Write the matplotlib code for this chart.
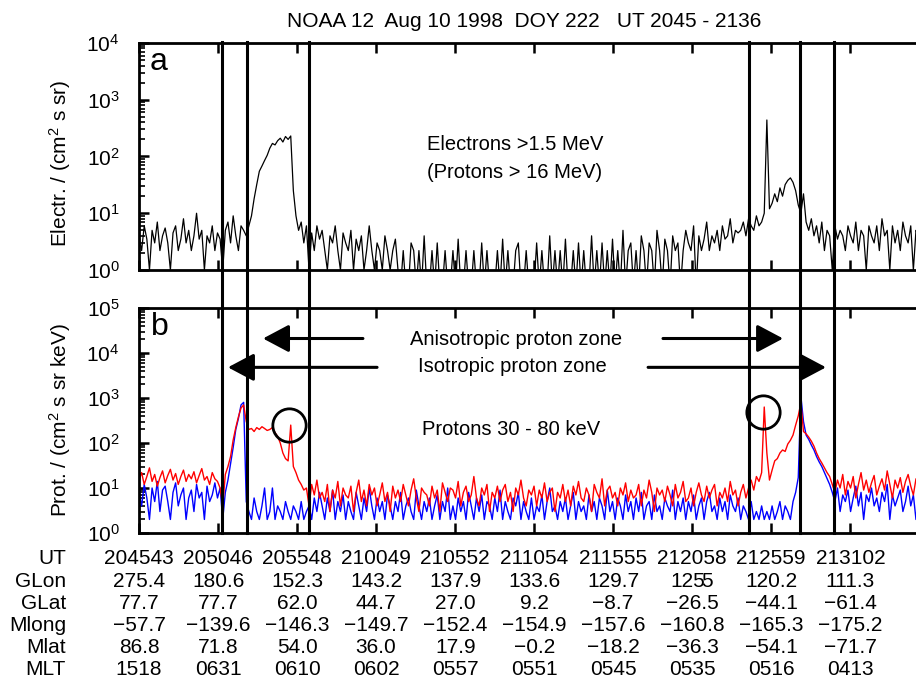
import numpy as np
import matplotlib.pyplot as plt
from matplotlib.ticker import LogLocator, NullLocator, NullFormatter
from matplotlib.transforms import blended_transform_factory, offset_copy

plt.rcParams['font.family'] = ['Liberation Sans', 'DejaVu Sans']
plt.rcParams['mathtext.fontset'] = 'custom'
plt.rcParams['mathtext.rm'] = 'Liberation Sans'
plt.rcParams['mathtext.it'] = 'Liberation Sans:italic'
plt.rcParams['mathtext.bf'] = 'Liberation Sans:bold'

# samples every 10 s, seconds after 20:45:43 UT
t_step = 10

electrons = [
    4, 2.2, 6, 3.5, 1, 5, 3, 7, 2.2, 4,
    5.5, 3, 1, 4.5, 6, 2.2, 3.5, 8, 3, 5,
    2.2, 4, 10, 3.5, 5, 1, 4, 3, 6, 2.2,
    4.5, 3.5, 1, 5, 7, 3, 9, 4, 2.2, 6,
    5, 4, 6, 9, 18, 32, 55, 68, 85, 105,
    140, 170, 160, 190, 210, 180, 225, 200, 230, 25,
    9, 5, 7, 3, 6, 1, 4.5, 2.2, 6, 3.5,
    5, 2.2, 1, 4, 3, 6, 2.2, 1, 4.5, 3,
    2.2, 5, 1, 3.5, 2.2, 4, 1, 2.2, 6, 2.2,
    1, 3, 2.2, 1, 4, 2.2, 1, 2.2, 3.5, 1,
    0.5, 2.2, 0.5, 0.5, 3, 2.2, 0.5, 2.2, 0.5, 4,
    0.5, 0.5, 2.2, 0.5, 3, 0.5, 0.5, 2.2, 0.5, 0.5,
    2.2, 0.5, 3.5, 0.5, 0.5, 2.2, 0.5, 0.5, 2.2, 0.5,
    0.5, 3, 0.5, 2.2, 0.5, 0.5, 0.5, 2.2, 0.5, 3.5,
    0.5, 2.2, 0.5, 0.5, 2.2, 3, 0.5, 0.5, 2.2, 0.5,
    0.5, 0.5, 3, 0.5, 2.2, 0.5, 0.5, 4, 0.5, 2.2,
    0.5, 2.2, 0.5, 3.5, 0.5, 0.5, 2.2, 0.5, 3, 0.5,
    2.2, 0.5, 0.5, 4, 0.5, 2.2, 0.5, 3, 0.5, 2.2,
    0.5, 3.5, 0.5, 2.2, 0.5, 5, 0.5, 2.2, 3, 0.5,
    2.2, 0.5, 4, 2.2, 0.5, 3, 2.2, 0.5, 5, 2.2,
    0.5, 3.5, 2.2, 0.5, 4, 2.2, 3, 0.5, 2.2, 5,
    3, 2.2, 6, 0.5, 4, 2.2, 3.5, 7, 2.2, 4,
    3, 5, 2.2, 6, 3.5, 4, 8, 3, 5, 4.5,
    5, 7, 4, 8, 6, 5, 9, 6, 7, 10,
    440, 12, 15, 22, 16, 28, 20, 32, 38, 42,
    35, 25, 14, 10, 22, 7, 5, 8, 4, 6,
    3, 7, 2.2, 5, 4, 1, 6, 3.5, 5, 4,
    2.2, 6, 4, 3, 7, 2.2, 5, 4, 1, 6,
    4, 3, 6, 2.2, 8, 4, 5, 1, 6, 3,
    5, 2.2, 7, 4, 3, 6, 1, 5, 4, 7,
    3, 5, 2.2, 6, 4, 5,
]

protons_red = [
    15, 22, 12, 18, 28, 14, 20, 11, 17, 24,
    13, 19, 26, 15, 21, 12, 18, 25, 14, 20,
    16, 23, 13, 19, 27, 15, 18, 12, 22, 16,
    14, 10, 4, 20, 30, 50, 117, 220, 380, 600,
    700, 300, 200, 210, 180, 220, 200, 230, 210, 190,
    200, 220, 170, 140, 100, 60, 45, 40, 250, 30,
    22, 15, 12, 9, 10, 4, 12, 7, 15, 6,
    8, 5, 12, 3, 9, 6, 14, 4, 10, 7,
    6, 11, 3, 8, 15, 5, 9, 4, 12, 7,
    10, 4, 7, 13, 5, 8, 3, 11, 6, 9,
    5, 12, 7, 4, 9, 16, 6, 3, 10, 8,
    7, 4, 11, 6, 9, 3, 13, 8, 5, 10,
    9, 6, 14, 4, 8, 11, 5, 7, 18, 6,
    4, 10, 7, 12, 3, 8, 6, 11, 5, 9,
    12, 5, 8, 3, 10, 7, 15, 6, 4, 9,
    7, 11, 4, 9, 6, 13, 5, 8, 10, 3,
    8, 6, 12, 5, 9, 4, 11, 7, 14, 6,
    5, 10, 7, 3, 12, 8, 6, 16, 4, 9,
    11, 6, 8, 4, 10, 7, 13, 5, 9, 6,
    7, 12, 4, 9, 6, 15, 8, 3, 10, 7,
    9, 5, 11, 7, 4, 12, 6, 8, 14, 5,
    6, 10, 4, 8, 13, 7, 5, 11, 6, 9,
    12, 4, 8, 6, 10, 5, 14, 7, 9, 4,
    8, 12, 6, 10, 15, 9, 18, 14, 22, 630,
    60, 15, 25, 40, 45, 60, 70, 65, 95, 115,
    150, 250, 400, 780, 180, 160, 135, 110, 85, 60,
    45, 36, 28, 22, 18, 12, 8, 15, 10, 20,
    7, 14, 10, 18, 6, 12, 22, 9, 15, 8,
    13, 19, 7, 11, 16, 9, 24, 12, 6, 15,
    10, 17, 8, 14, 20, 11, 7, 16, 12, 9,
    18, 10, 14, 8, 21, 12,
]

protons_blue = [
    8, 4, 12, 6, 2, 10, 5, 14, 3, 9,
    11, 5, 2, 8, 13, 4, 7, 10, 2, 6,
    9, 3, 12, 6, 8, 2, 11, 5, 7, 13,
    6, 10, 2, 8, 15, 35, 80, 200, 350, 700,
    800, 5, 3, 2, 6, 3, 2, 4, 10, 2,
    3, 10, 2, 4, 3, 2, 5, 3, 2, 4,
    3, 2, 5, 2, 3, 4, 2, 6, 3, 8,
    4, 2, 6, 3, 9, 2, 5, 3, 7, 2,
    5, 3, 2, 8, 4, 2, 6, 3, 10, 4,
    2, 6, 3, 5, 2, 7, 4, 2, 5, 3,
    8, 2, 4, 6, 3, 2, 9, 4, 2, 5,
    3, 6, 2, 4, 7, 2, 5, 3, 10, 2,
    4, 2, 6, 3, 5, 2, 8, 4, 2, 6,
    3, 7, 2, 5, 4, 2, 6, 3, 9, 2,
    5, 3, 2, 6, 4, 8, 2, 5, 3, 2,
    6, 2, 4, 3, 7, 2, 5, 10, 3, 4,
    2, 5, 3, 6, 2, 4, 8, 2, 5, 3,
    4, 2, 7, 3, 5, 2, 6, 4, 2, 9,
    3, 5, 2, 6, 4, 2, 7, 3, 5, 2,
    6, 3, 8, 2, 4, 5, 2, 7, 3, 4,
    2, 6, 4, 3, 9, 2, 5, 3, 6, 2,
    5, 3, 7, 2, 4, 6, 2, 5, 8, 3,
    4, 2, 6, 3, 5, 2, 7, 4, 3, 6,
    2, 4, 3, 2, 5, 2, 3, 2, 4, 2,
    3, 2, 4, 2, 3, 5, 2, 4, 3, 2,
    5, 8, 17, 1100, 300, 150, 120, 90, 70, 50,
    38, 30, 22, 16, 12, 8, 5, 10, 3, 7,
    5, 9, 3, 6, 11, 4, 8, 2, 7, 5,
    10, 4, 6, 3, 8, 5, 12, 2, 7, 4,
    6, 9, 3, 5, 11, 4, 7, 2, 8, 5,
    4, 9, 6, 3, 10, 5,
]

# boundaries (s after 204543)
boundaries = [317, 413, 650, 2332, 2527, 2657]

# circled spikes
circle_t = [573, 2386]
circle_v = [250, 490]

ut_labels = ['204543', '205046', '205548', '210049', '210552',
             '211054', '211555', '212058', '212559', '213102']
glon = ['275.4', '180.6', '152.3', '143.2', '137.9', '133.6', '129.7', '1255', '120.2', '111.3']
glat = ['77.7', '77.7', '62.0', '44.7', '27.0', '9.2', '−8.7', '−26.5', '−44.1', '−61.4']
mlong = ['−57.7', '−139.6', '−146.3', '−149.7', '−152.4', '−154.9', '−157.6', '−160.8', '−165.3', '−175.2']
mlat = ['86.8', '71.8', '54.0', '36.0', '17.9', '−0.2', '−18.2', '−36.3', '−54.1', '−71.7']
mlt = ['1518', '0631', '0610', '0602', '0557', '0551', '0545', '0535', '0516', '0413']


def ut_seconds(s):
    h, m, sec = int(s[:2]), int(s[2:4]), int(s[4:])
    return (h * 3600 + m * 60 + sec) - (20 * 3600 + 45 * 60 + 43)


tick_t = [ut_seconds(s) for s in ut_labels]

W, H = 916, 678
fig = plt.figure(figsize=(W / 100, H / 100), dpi=100)


def fx(px):
    return px / W


def fy(py):
    return 1 - py / H


x_max = 3058
ax_a = fig.add_axes([fx(139), fy(270), 800 / W, 227 / H])
ax_b = fig.add_axes([fx(139), fy(533), 800 / W, 225 / H])

t_e = t_step * np.arange(len(electrons))
t_r = t_step * np.arange(len(protons_red))
t_b = t_step * np.arange(len(protons_blue))

ax_a.plot(t_e, electrons, color='black', lw=0.9)
ax_b.plot(t_b, protons_blue, color='#0000ff', lw=1.0)
ax_b.plot(t_r, protons_red, color='#ff0000', lw=1.0)

for ax, top in ((ax_a, 1e4), (ax_b, 1e5)):
    ax.set_yscale('log')
    ax.set_ylim(1, top)
    ax.set_xlim(0, x_max)
    ax.set_xticks(tick_t)
    ax.xaxis.set_minor_locator(NullLocator())
    ax.tick_params(axis='x', which='major', direction='in', top=True, bottom=True,
                   length=7, width=1.8, labelbottom=False)
    ax.yaxis.set_major_locator(LogLocator(base=10, numticks=12))
    ax.yaxis.set_minor_locator(LogLocator(base=10, subs=np.arange(2, 10), numticks=12))
    ax.yaxis.set_minor_formatter(NullFormatter())
    ax.tick_params(axis='y', which='major', direction='in', left=True, right=True,
                   length=7, width=1.8, labelsize=15, pad=14)
    ax.tick_params(axis='y', which='minor', direction='in', left=True, right=True,
                   length=4, width=1.2)
    for sp in ax.spines.values():
        sp.set_linewidth(2)

# boundary lines through both panels
gap = (308 - 270) / 227
for x in boundaries:
    ax_a.axvline(x, ymin=-gap, ymax=1.005, clip_on=False, color='black', lw=2.2, zorder=5)
    ax_b.axvline(x, ymin=0, ymax=1, clip_on=False, color='black', lw=2.2, zorder=5)

ax_a.set_ylabel('Electr. / (cm$^2$ s sr)', fontsize=15)
ax_a.yaxis.set_label_coords(-0.083, 0.47)
ax_b.set_ylabel('Prot. / (cm$^2$ s sr keV)', fontsize=15)
ax_b.yaxis.set_label_coords(-0.083, 0.5)

fig.text(fx(524), fy(27), 'NOAA 12  Aug 10 1998  DOY 222   UT 2045 - 2136',
         ha='center', va='baseline', fontsize=15)
fig.text(fx(150), fy(70), 'a', ha='left', va='baseline', fontsize=23)
fig.text(fx(151), fy(335), 'b', ha='left', va='baseline', fontsize=23)

ax_a.text(1437, 160, 'Electrons >1.5 MeV', ha='center', va='center', fontsize=14.5)
ax_a.text(1437, 53, '(Protons > 16 MeV)', ha='center', va='center', fontsize=14.5)
ax_b.text(1441, 2.0e4, 'Anisotropic proton zone', ha='center', va='center', fontsize=14.5)
ax_b.text(1426, 4.9e3, 'Isotropic proton zone', ha='center', va='center', fontsize=14.5)
ax_b.text(1422, 195, 'Protons 30 - 80 keV', ha='center', va='center', fontsize=14.5)

arrow_kw = dict(arrowstyle='-|>,head_length=1.6,head_width=0.85', color='black',
                lw=2.2, shrinkA=0, shrinkB=0, mutation_scale=10)
ax_b.annotate('', xy=(474, 2.1e4), xytext=(856, 2.1e4), arrowprops=arrow_kw)
ax_b.annotate('', xy=(2462, 2.1e4), xytext=(2003, 2.1e4), arrowprops=arrow_kw)
ax_b.annotate('', xy=(340, 4.8e3), xytext=(910, 4.8e3), arrowprops=arrow_kw)
ax_b.annotate('', xy=(2626, 4.8e3), xytext=(1946, 4.8e3), arrowprops=arrow_kw)

ax_b.plot(circle_t, circle_v, 'o', ms=24, mfc='none', mec='black', mew=2, zorder=6)

# position table below the panels
rows = [('UT', ut_labels), ('GLon', glon), ('GLat', glat),
        ('Mlong', mlong), ('Mlat', mlat), ('MLT', mlt)]
baselines = [564.5, 587, 609, 631, 653, 675]
trans = blended_transform_factory(ax_b.transData, fig.transFigure)
for (name, vals), yb in zip(rows, baselines):
    fig.text(fx(66), fy(yb), name, ha='right', va='baseline', fontsize=15)
    for x, v in zip(tick_t, vals):
        if v == '1255':
            # overprinted cell as in the original
            fig.text(x, fy(yb), '125', ha='right', va='baseline', fontsize=15,
                     transform=offset_copy(trans, fig=fig, x=13, y=0, units='dots'))
            fig.text(x, fy(yb), '5', ha='left', va='baseline', fontsize=15,
                     transform=offset_copy(trans, fig=fig, x=9, y=0, units='dots'))
        else:
            fig.text(x, fy(yb), v, ha='center', va='baseline', fontsize=15,
                     transform=trans)

fig.savefig('out.png', dpi=100)
